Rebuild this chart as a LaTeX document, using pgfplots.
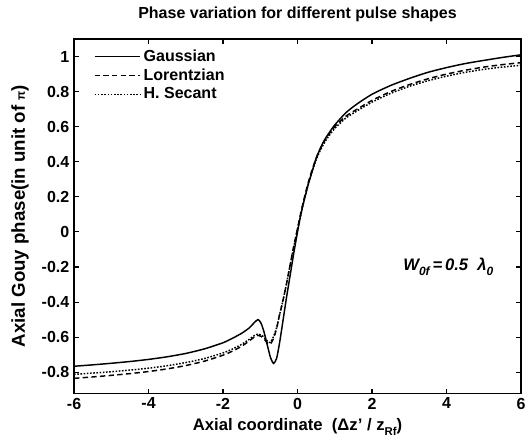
\documentclass[border=0pt]{standalone}
\usepackage{fontspec}
\setmainfont{Liberation Sans}
\usepackage{pgfplots}
\pgfplotsset{compat=1.18}
\begin{document}
\begin{tikzpicture}
\begin{axis}[
  scale only axis,
  width=335pt, height=265.5pt,
  xmin=-6, xmax=6, ymin=-0.92, ymax=1.1,
  xtick={-6,-4,-2,0,2,4,6},
  ytick={-0.8,-0.6,-0.4,-0.2,0,0.2,0.4,0.6,0.8,1},
  yticklabels={-0.8,-0.6,-0.4,-0.2,0,0.2,0.4,0.6,0.8,1},
  xticklabels={-6,-4,-2,0,2,4,6},
  tick align=inside,
  major tick length=3.5pt,
  tick style={line width=0.8pt,black},
  axis line style={line width=1pt},
  ticklabel style={font=\bfseries\fontsize{12}{14}\selectfont},
  title={\bfseries Phase variation for different pulse shapes},
  title style={font=\fontsize{12}{14}\selectfont, at={(0.5,1)}, anchor=center, yshift=12.5pt},
  xlabel={\bfseries Axial coordinate\ \ (Δz' / z\raisebox{-0.6ex}{\fontsize{8.5}{9}\selectfont Rf})},
  ylabel={\bfseries Axial Gouy phase(in unit of {\fontsize{9}{10}\selectfont π})},
  xlabel style={font=\fontsize{12.5}{14}\selectfont, at={(0.5,0)}, anchor=center, yshift=-25.5pt},
  ylabel style={font=\fontsize{14}{16}\selectfont, at={(0,0.5)}, anchor=center, rotate=0, yshift=40.5pt},
  legend style={at={(0.035,0.985)}, anchor=north west, draw=none, fill=none,
    font=\bfseries\fontsize{12}{14}\selectfont, row sep=0pt},
  legend cell align=left,
  legend image code/.code={\draw[#1] (0cm,0cm) -- (1.2cm,0cm);},
]
\addplot[black, line width=1.1pt, smooth, tension=0.4] coordinates {
(-6,-0.766) (-5.5,-0.758) (-5,-0.749) (-4.5,-0.739) (-4,-0.727) (-3.5,-0.712) (-3,-0.693) (-2.5,-0.667) (-2,-0.632) (-1.75,-0.607) (-1.5,-0.578) (-1.3,-0.548) (-1.15,-0.515) (-1.06,-0.50) (-0.98,-0.52) (-0.9,-0.57) (-0.8,-0.655) (-0.72,-0.72) (-0.64,-0.75) (-0.56,-0.72) (-0.48,-0.63) (-0.4,-0.52) (-0.3,-0.38) (-0.2,-0.25) (-0.1,-0.12) (0,0) (0.1,0.11) (0.2,0.20) (0.3,0.28) (0.4,0.35) (0.5,0.42) (0.6,0.47) (0.7,0.515) (0.8,0.55) (1.0,0.61) (1.3,0.68) (1.6,0.73) (2,0.785) (2.5,0.835) (3,0.875) (3.5,0.91) (4,0.937) (4.5,0.96) (5,0.978) (5.5,0.995) (6,1.01)
};
\addlegendentry{Gaussian}
\addplot[black, line width=1.1pt, dash pattern=on 4pt off 2.5pt, smooth, tension=0.4] coordinates {
(-6,-0.835) (-5.5,-0.827) (-5,-0.818) (-4.5,-0.808) (-4,-0.796) (-3.5,-0.781) (-3,-0.762) (-2.5,-0.737) (-2,-0.703) (-1.75,-0.68) (-1.5,-0.652) (-1.3,-0.622) (-1.15,-0.598) (-1.06,-0.59) (-0.98,-0.595) (-0.9,-0.61) (-0.8,-0.635) (-0.73,-0.64) (-0.65,-0.61) (-0.56,-0.55) (-0.48,-0.47) (-0.4,-0.40) (-0.3,-0.30) (-0.2,-0.19) (-0.1,-0.08) (0,0.02) (0.1,0.12) (0.2,0.21) (0.3,0.29) (0.4,0.36) (0.5,0.42) (0.6,0.47) (0.7,0.51) (0.8,0.545) (1.0,0.60) (1.3,0.66) (1.6,0.70) (2,0.75) (2.5,0.80) (3,0.84) (3.5,0.873) (4,0.90) (4.5,0.922) (5,0.94) (5.5,0.954) (6,0.965)
};
\addlegendentry{Lorentzian}
\addplot[black, line width=1.1pt, dash pattern=on 1.2pt off 1.2pt, smooth, tension=0.4] coordinates {
(-6,-0.812) (-5.5,-0.805) (-5,-0.797) (-4.5,-0.788) (-4,-0.777) (-3.5,-0.763) (-3,-0.745) (-2.5,-0.722) (-2,-0.69) (-1.75,-0.668) (-1.5,-0.641) (-1.3,-0.613) (-1.15,-0.59) (-1.06,-0.582) (-0.98,-0.587) (-0.9,-0.60) (-0.8,-0.625) (-0.73,-0.63) (-0.65,-0.60) (-0.56,-0.545) (-0.48,-0.47) (-0.4,-0.40) (-0.3,-0.30) (-0.2,-0.19) (-0.1,-0.085) (0,0.015) (0.1,0.11) (0.2,0.20) (0.3,0.28) (0.4,0.35) (0.5,0.41) (0.6,0.46) (0.7,0.50) (0.8,0.535) (1.0,0.59) (1.3,0.65) (1.6,0.69) (2,0.74) (2.5,0.79) (3,0.83) (3.5,0.862) (4,0.888) (4.5,0.91) (5,0.927) (5.5,0.94) (6,0.95)
};
\addlegendentry{H. Secant}
\node[font=\bfseries\itshape\fontsize{12.5}{14}\selectfont] at (axis cs:4.05,-0.2)
  {W\raisebox{-0.6ex}{\fontsize{9}{10}\selectfont 0f}\,=\,0.5\ \ λ\raisebox{-0.6ex}{\fontsize{9}{10}\selectfont 0}};
\end{axis}
\pgfresetboundingbox
\path[use as bounding box] ([xshift=-55.5pt,yshift=-34.5pt]current axis.south west) rectangle ([xshift=6.75pt,yshift=29.25pt]current axis.north east);
\end{tikzpicture}
\end{document}
